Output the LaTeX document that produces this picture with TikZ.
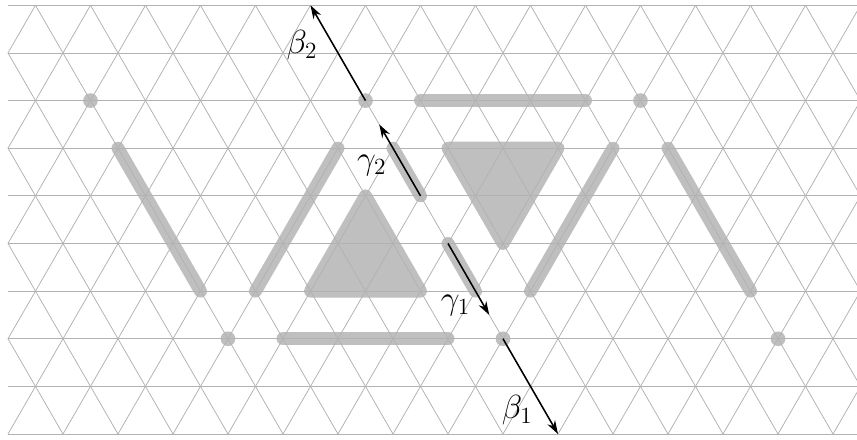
\documentclass[tikz,border=0pt]{standalone}
\usetikzlibrary{arrows.meta,calc}

\begin{document}
\begin{tikzpicture}[
    grid/.style={draw=black!30, line width=0.4pt},
    bar/.style={draw=black!25, line width=6.7pt, line cap=round, line join=round},
    dot/.style={circle, fill=black!25, minimum size=7.6pt, inner sep=0pt},
    flecha/.style={-{Stealth[length=7pt,width=4.5pt]}, line width=0.8pt},
    etiqueta/.style={font=\LARGE, inner sep=1pt}
]

% Marco de la figura
\useasboundingbox (-0.145,-0.091) rectangle (15.436,7.891);

% Vertices de la red triangular: p<columna>-<fila>
\foreach \j in {0,...,9} {
    \foreach \k in {0,...,15} {
        \pgfmathsetmacro{\xpos}{\k + 0.5*mod(\j,2)}
        \coordinate (p\k-\j) at (\xpos, {\j*sqrt(3)/2});
    }
}

% Triangulos rellenos
\draw[bar, fill=black!25] (p5-3) -- (p7-3) -- (p6-5) -- cycle;
\draw[bar, fill=black!25] (p8-6) -- (p10-6) -- (p9-4) -- cycle;

% Barras grises entre vertices
\foreach \a/\b in {p7-7/p10-7, p2-6/p3-3, p4-3/p6-6, p9-3/p11-6,
                   p12-6/p13-3, p5-2/p8-2, p7-6/p7-5, p8-4/p8-3} {
    \draw[bar] (\a) -- (\b);
}

% Puntos aislados
\foreach \v in {p1-7, p6-7, p11-7, p4-2, p9-2, p14-2} {
    \node[dot] (d\v) at (\v) {};
}

% Red triangular
\begin{scope}
    \clip (0,-1) rectangle (15.436,9);
    \foreach \j in {0,...,9} {
        \draw[grid] (0,{\j*sqrt(3)/2}) -- (16,{\j*sqrt(3)/2});
    }
    \foreach \c in {-5,...,16} {
        \draw[grid] (\c,0) -- ++(60:9);
    }
    \foreach \c in {0,...,20} {
        \draw[grid] (\c,0) -- ++(120:9);
    }
\end{scope}

% Flechas
\coordinate (g2) at ($(p7-5)!1.5!(p7-6)$);
\coordinate (g1) at ($(p8-4)!1.5!(p8-3)$);
\draw[flecha] (p6-7) -- (p5-9) node[etiqueta, pos=0.58, left=7pt] {$\beta_2$};
\draw[flecha] (p9-2) -- (p10-0) node[etiqueta, pos=0.75, left=4.6pt] {$\beta_1$};
\draw[flecha] (p7-5) -- (g2) node[etiqueta, pos=0.43, left=7pt] {$\gamma_2$};
\draw[flecha] (p8-4) -- (g1) node[etiqueta, pos=0.87, left=5.7pt] {$\gamma_1$};
\end{tikzpicture}
\end{document}
